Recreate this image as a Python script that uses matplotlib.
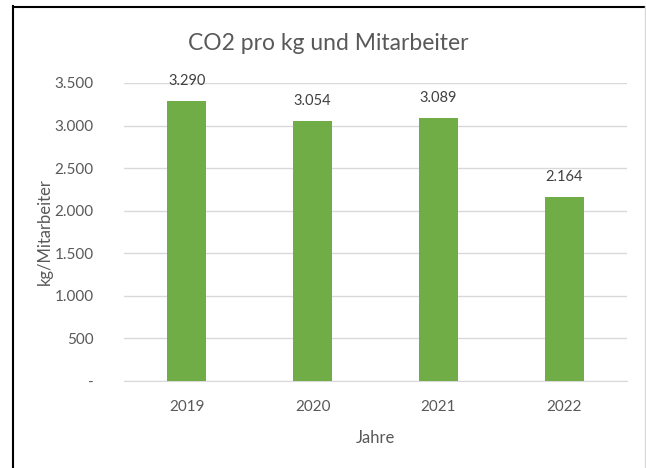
import matplotlib.pyplot as plt
from matplotlib.lines import Line2D

# Daten
jahre = ["2019", "2020", "2021", "2022"]
werte = [3290, 3054, 3089, 2164]
wert_labels = ["3.290", "3.054", "3.089", "2.164"]
y_ticks = [0, 500, 1000, 1500, 2000, 2500, 3000, 3500]
y_tick_labels = ["-", "500", "1.000", "1.500", "2.000", "2.500", "3.000", "3.500"]

plt.rcParams["font.family"] = ["Lato", "DejaVu Sans"]

W, H = 646, 468
fig = plt.figure(figsize=(W / 100, H / 100), dpi=100)
ax = fig.add_axes([124 / W, (H - 381) / H, 503 / W, 298 / H])

x = range(len(jahre))
ax.bar(x, werte, width=0.31, color="#70AD47", zorder=3)

for xi, v, lab in zip(x, werte, wert_labels):
    ax.annotate(lab, (xi, v), xytext=(0, 9), textcoords="offset points",
                ha="center", va="bottom", fontsize=10.5, color="#404040")

ax.set_xlim(-0.5, 3.5)
ax.set_ylim(0, 3500)
ax.set_xticks(list(x))
ax.set_xticklabels(jahre)
ax.set_yticks(y_ticks)
ax.set_yticklabels(y_tick_labels)
ax.tick_params(axis="both", length=0, labelsize=11, labelcolor="#595959")
ax.tick_params(axis="x", pad=14)
ax.tick_params(axis="y", pad=22)

ax.grid(axis="y", color="#D9D9D9", linewidth=1, zorder=0)
for s in ["top", "right", "left"]:
    ax.spines[s].set_visible(False)
ax.spines["bottom"].set_color("#D9D9D9")

ax.set_xlabel("Jahre", fontsize=12, color="#595959", labelpad=11)
ax.set_ylabel("kg/Mitarbeiter", fontsize=12, color="#595959", labelpad=1)

fig.text(328 / W, 1 - 44 / H, "CO2 pro kg und Mitarbeiter", ha="center",
         va="center", fontsize=16.5, color="#595959")

# Rahmen
fig.add_artist(Line2D([13.5 / W, 13.5 / W], [0, 1 - 6 / H], color="black", linewidth=1.5))
fig.add_artist(Line2D([13 / W, 1], [1 - 6.5 / H, 1 - 6.5 / H], color="black", linewidth=1.5))
fig.add_artist(Line2D([645 / W, 645 / W], [0, 1 - 6 / H], color="#D9D9D9", linewidth=1))

fig.savefig("out.png", dpi=100)
